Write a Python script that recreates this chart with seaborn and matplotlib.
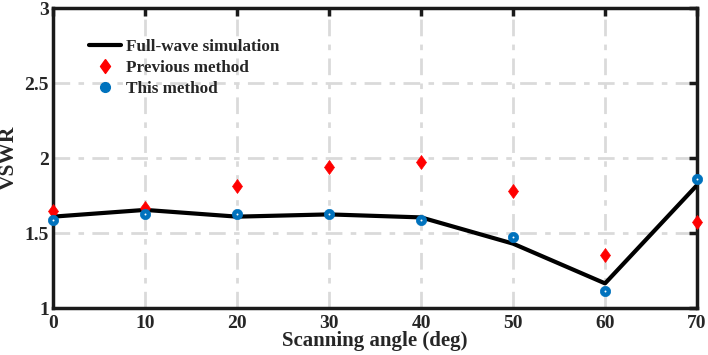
import numpy as np
import pandas as pd
import seaborn as sns
import matplotlib.pyplot as plt
from matplotlib.lines import Line2D

angles = [0, 10, 20, 30, 40, 50, 60, 70]
full_wave = [1.61, 1.655, 1.61, 1.625, 1.605, 1.43, 1.165, 1.82]
previous = [1.645, 1.67, 1.815, 1.94, 1.975, 1.78, 1.355, 1.575]
this_method = [1.59, 1.625, 1.625, 1.625, 1.585, 1.475, 1.115, 1.86]

df = pd.DataFrame({"angle": angles, "full": full_wave,
                   "prev": previous, "this": this_method})

sns.set_style("white")
plt.rcParams["font.family"] = ["Liberation Serif", "DejaVu Serif"]
plt.rcParams["font.weight"] = "bold"

fig = plt.figure(figsize=(7.08, 3.55), dpi=100)
ax = fig.add_axes([0.075, 0.132, 0.9095, 0.845])

blue = "#0072BD"
# MATLAB-like diamond, a bit wider than matplotlib's thin 'd'
diamond = [(0, 1), (0.72, 0), (0, -1), (-0.72, 0), (0, 1)]

sns.lineplot(data=df, x="angle", y="full", color="black", linewidth=3, ax=ax, zorder=3)
sns.scatterplot(data=df, x="angle", y="prev", marker=diamond, color="red", s=100,
                edgecolor="red", linewidth=0.5, ax=ax, zorder=4, clip_on=False)
sns.scatterplot(data=df, x="angle", y="this", marker="o", color=blue, s=55,
                edgecolor=blue, linewidth=0.5, ax=ax, zorder=4, clip_on=False)
# small white centre like the original markers
sns.scatterplot(data=df, x="angle", y="this", marker="o", color="white", s=2,
                edgecolor="white", linewidth=0, ax=ax, zorder=5, clip_on=False)

ax.set_xlim(0, 70)
ax.set_ylim(1, 3)
ax.set_xticks(angles)
ax.set_yticks([1, 1.5, 2, 2.5, 3])
ax.set_yticklabels(["1", "1.5", "2", "2.5", "3"])
ax.grid(True, color="#dadada", linestyle=(0, (6, 3, 2, 3)), linewidth=2)
ax.set_axisbelow(True)
for sp in ax.spines.values():
    sp.set_visible(True)
    sp.set_color("#1a1a1a")
    sp.set_linewidth(2.5)
ax.tick_params(direction="in", length=6, width=2.5, top=True, right=True,
               labelsize=14, pad=5, color="#1a1a1a")
ax.tick_params(axis="y", pad=3)
for lab in ax.get_xticklabels() + ax.get_yticklabels():
    lab.set_fontweight("bold")

ax.set_xlabel("Scanning angle (deg)", fontsize=15, fontweight="bold", labelpad=-1)
ax.set_ylabel("VSWR", fontsize=15.5, fontweight="bold")
ax.yaxis.set_label_coords(-0.053, 0.5)

handles = [
    Line2D([], [], color="black", linewidth=3),
    Line2D([], [], marker=diamond, color="red", linestyle="none", markersize=10),
    Line2D([], [], marker="o", color=blue, linestyle="none", markersize=7),
]
ax.legend(handles, ["Full-wave simulation", "Previous method", "This method"],
          loc="upper left", bbox_to_anchor=(0.045, 0.92), frameon=False,
          prop={"size": 12.3, "weight": "bold"}, handlelength=1.9,
          handletextpad=0.3, labelspacing=0.28, borderaxespad=0)

fig.savefig("out.png", dpi=100)
